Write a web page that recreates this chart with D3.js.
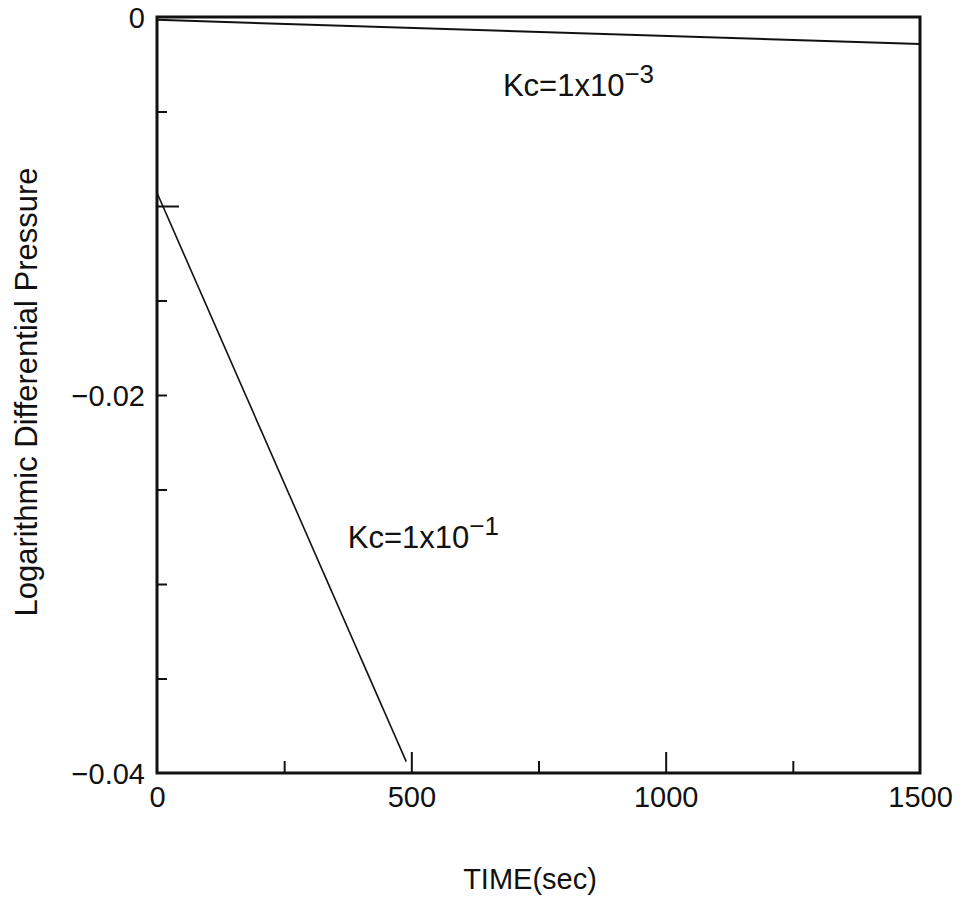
<!DOCTYPE html>
<html>
<head>
<meta charset="utf-8">
<script src="https://cdn.jsdelivr.net/npm/d3@7"></script>
<style>
  html, body { margin: 0; padding: 0; background: #fff; }
  svg text { font-family: "Liberation Sans", Arial, Helvetica, sans-serif; fill: #111; }
</style>
</head>
<body>
<svg id="chart" width="965" height="903"></svg>
<script>
// ---- data ----
const timeLow = [0, 1500];                 // Kc = 1x10^-3
const pressLow = [-0.00015, -0.00143];
const timeHigh = [0, 490];                 // Kc = 1x10^-1
const pressHigh = [-0.0093, -0.0394];

const xTickLabels = [0, 500, 1000, 1500];
const xMajorTicks = [500, 1000];
const xMinorTicks = [250, 750, 1250];
const yTickLabels = [0, -0.02, -0.04];
const yMajorTicks = [-0.01];
const yMinorTicks = [-0.005, -0.015, -0.02, -0.025, -0.03, -0.035];

const labelText = ["Kc=1x10", "Kc=1x10"];
const labelExp = ["\u22123", "\u22121"];
const labelTime = [680, 375];
const labelValue = [-0.0042, -0.0281];

// ---- layout ----
const svg = d3.select("#chart");
const L = 157, R = 920, T = 17, B = 773;
const x = d3.scaleLinear().domain([0, 1500]).range([L, R]);
const y = d3.scaleLinear().domain([-0.04, 0]).range([B, T]);

// data lines
const line = d3.line().x(d => x(d[0])).y(d => y(d[1]));
svg.append("path")
  .datum(d3.zip(timeLow, pressLow))
  .attr("d", line).attr("fill", "none").attr("stroke", "#111").attr("stroke-width", 2);
svg.append("path")
  .datum(d3.zip(timeHigh, pressHigh))
  .attr("d", line).attr("fill", "none").attr("stroke", "#111").attr("stroke-width", 1.6);

// ticks (inward) via d3 axes
function tickAxis(gen, transform, len) {
  const g = svg.append("g").attr("transform", transform)
    .call(gen.tickSize(len).tickFormat(""));
  g.select(".domain").remove();
  g.selectAll(".tick line").attr("stroke", "#111").attr("stroke-width", 2);
  return g;
}
tickAxis(d3.axisTop(x).tickValues(xMajorTicks), `translate(0,${B})`, 21);
tickAxis(d3.axisTop(x).tickValues(xMinorTicks), `translate(0,${B})`, 12);
tickAxis(d3.axisRight(y).tickValues(yMajorTicks), `translate(${L},0)`, 22);
tickAxis(d3.axisRight(y).tickValues(yMinorTicks), `translate(${L},0)`, 10);

// frame
svg.append("rect").attr("x", L).attr("y", T).attr("width", R - L).attr("height", B - T)
  .attr("fill", "none").attr("stroke", "#111").attr("stroke-width", 3);

// tick labels
const xl = svg.append("g").attr("transform", `translate(0,${B})`)
  .call(d3.axisBottom(x).tickValues(xTickLabels).tickSize(0).tickPadding(0)
    .tickFormat(d3.format("d")));
xl.select(".domain").remove();
xl.selectAll("text").attr("font-size", 29).attr("dy", 0).attr("y", 34)
  .attr("font-family", "'Liberation Sans', Arial, sans-serif").attr("fill", "#111");

const yl = svg.append("g").attr("transform", `translate(${L},0)`)
  .call(d3.axisLeft(y).tickValues(yTickLabels).tickSize(0).tickPadding(0)
    .tickFormat(d => d === 0 ? "0" : d3.format(".2f")(d).replace("-", "\u2212")));
yl.select(".domain").remove();
yl.selectAll("text").attr("font-size", 29).attr("x", -12).attr("dy", "0.36em")
  .attr("font-family", "'Liberation Sans', Arial, sans-serif").attr("fill", "#111");

// series labels
labelText.forEach((txt, i) => {
  const t = svg.append("text").attr("x", x(labelTime[i])).attr("y", y(labelValue[i]))
    .attr("font-size", 31).attr("text-anchor", "start");
  t.append("tspan").text(txt);
  t.append("tspan").attr("font-size", 26).attr("dy", -13).text(labelExp[i]);
});

// axis titles
svg.append("text").attr("x", 530).attr("y", 889).attr("text-anchor", "middle")
  .attr("font-size", 29).text("TIME(sec)");
svg.append("text").attr("transform", "translate(37,392) rotate(-90)")
  .attr("text-anchor", "middle").attr("font-size", 31)
  .text("Logarithmic Differential Pressure");
</script>
</body>
</html>
